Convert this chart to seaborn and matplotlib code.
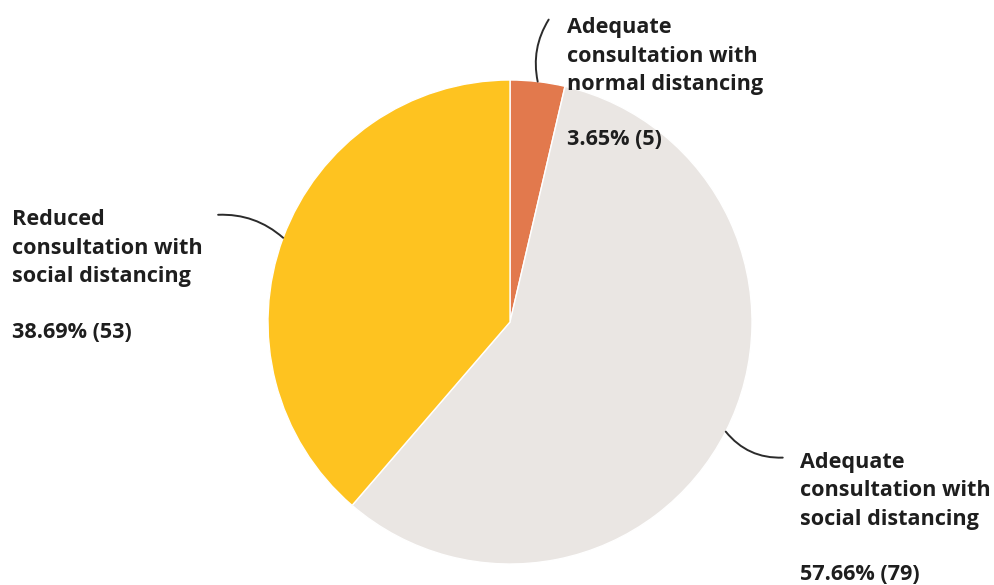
import numpy as np
import matplotlib
matplotlib.use("Agg")
import matplotlib.pyplot as plt
import seaborn as sns

# Survey responses
categories = [
    "Adequate\nconsultation with\nnormal distancing",
    "Adequate\nconsultation with\nsocial distancing",
    "Reduced\nconsultation with\nsocial distancing",
]
counts = [5, 79, 53]
percent_labels = ["3.65% (5)", "57.66% (79)", "38.69% (53)"]
colors = ["#E2794D", "#EAE6E3", "#FEC320"]

sns.set_theme(style="white")
plt.rcParams["font.family"] = ["Open Sans", "DejaVu Sans"]

W, H = 995, 585
fig = plt.figure(figsize=(W / 100, H / 100), dpi=100)
ax = fig.add_axes([0, 0, 1, 1])

cx, cy, r = 510, H - 322, 242
wedges, _ = ax.pie(
    counts, colors=colors, startangle=90, counterclock=False,
    center=(cx, cy), radius=r,
    wedgeprops=dict(edgecolor="white", linewidth=1),
)
ax.set_xlim(0, W)
ax.set_ylim(0, H)
ax.set_aspect("equal")
ax.axis("off")

# leader line end offsets (px) and text placement per slice
leader_end = [(11, 62), (57, -26), (-65, 23)]
leader_rad = [0.2, -0.25, -0.2]
text_x = [567, 800, 12]
first_baseline = [33, 468, 225]
pct_baseline = [145, 580, 338]
pitch = 28.5
fs = 15.6

for w, end, rad, tx, fb, pb, cat, pct in zip(
        wedges, leader_end, leader_rad, text_x, first_baseline,
        pct_baseline, categories, percent_labels):
    mid = np.deg2rad((w.theta1 + w.theta2) / 2)
    ax_pt = (cx + r * np.cos(mid), cy + r * np.sin(mid))
    ax.annotate(
        "", xy=ax_pt, xytext=(ax_pt[0] + end[0], ax_pt[1] + end[1]),
        arrowprops=dict(arrowstyle="-", color="#2b2b2b", lw=1.4,
                        connectionstyle=f"arc3,rad={rad}",
                        shrinkA=0, shrinkB=0),
    )
    for i, line in enumerate(cat.split("\n")):
        ax.text(tx, H - (fb + i * pitch), line, fontsize=fs,
                fontweight="bold", color="#1e1e1e", va="baseline", ha="left")
    ax.text(tx, H - pb, pct, fontsize=fs, fontweight="bold",
            color="#1e1e1e", va="baseline", ha="left")

fig.savefig("out.png", dpi=100, facecolor="white")
